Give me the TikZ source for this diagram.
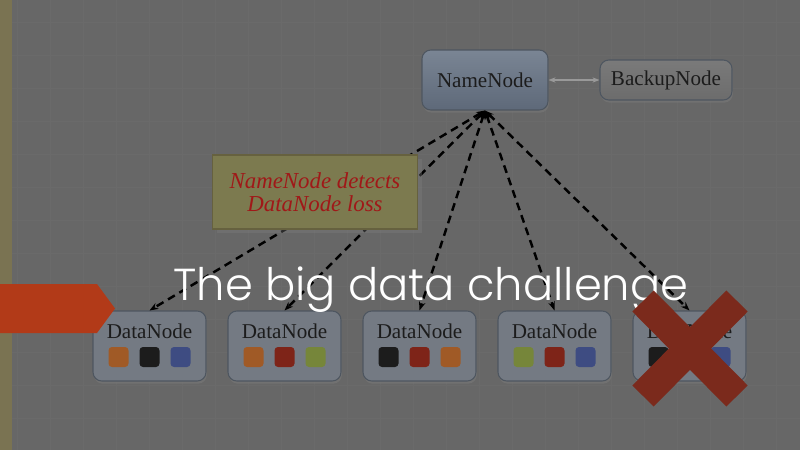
\documentclass[tikz,border=0pt]{standalone}
\usepackage{fontspec}
\setmainfont{Liberation Serif}
\newfontfamily\titlefont{Poppins Light}
\usetikzlibrary{shadows,arrows.meta}

\definecolor{slidebg}{HTML}{676767}
\definecolor{gridgray}{HTML}{6A6A6A}
\definecolor{olivebar}{HTML}{7A7352}
\definecolor{tabred}{HTML}{B23A18}
\definecolor{crossred}{HTML}{7B2A1C}
\definecolor{boxfill}{HTML}{747A83}
\definecolor{boxedge}{HTML}{4E5660}
\definecolor{nametop}{HTML}{7A8594}
\definecolor{namebottom}{HTML}{5E6979}
\definecolor{backtop}{HTML}{7A7A7A}
\definecolor{backbottom}{HTML}{6C6C6C}
\definecolor{notefill}{HTML}{7C7A4F}
\definecolor{noteedge}{HTML}{66613F}
\definecolor{notetext}{HTML}{A01818}
\definecolor{blkorange}{HTML}{A05A26}
\definecolor{blkblack}{HTML}{1C1C1C}
\definecolor{blkblue}{HTML}{3E4C82}
\definecolor{blkred}{HTML}{7E2418}
\definecolor{blkgreen}{HTML}{76863A}

\begin{document}
\begin{tikzpicture}[x=0.02cm,y=-0.02cm,
    server/.style={draw=boxedge,line width=0.6pt,rounded corners=5pt,fill=boxfill,
        drop shadow={opacity=0.4,shadow xshift=0.5pt,shadow yshift=-1.5pt},
        text=blkblack,font=\fontsize{12}{14}\selectfont},
    datanode/.style={server,minimum width=2.26cm,minimum height=1.4cm},
    block/.style={rounded corners=2pt,minimum size=0.4cm,inner sep=0pt},
    heartbeat/.style={dash pattern=on 4.5pt off 3pt,line width=1.4pt,
        {Stealth[length=5pt]}-{Stealth[length=5pt]}}
]

% Slide background
\fill[slidebg] (0,0) rectangle (800,450);
\useasboundingbox (0,0) rectangle (800,450);
\foreach \x in {17,50,...,800}
    \draw[gridgray,line width=0.4pt] (\x,0) -- (\x,450);
\foreach \y in {22,55,...,450}
    \draw[gridgray,line width=0.4pt] (0,\y) -- (800,\y);
\fill[olivebar] (0,0) rectangle (12,450);

% NameNode and BackupNode
\node[server,minimum width=2.52cm,minimum height=1.2cm,
    top color=nametop,bottom color=namebottom] (nn) at (485,80) {NameNode};
\node[server,minimum width=2.64cm,minimum height=0.8cm,
    top color=backtop,bottom color=backbottom] (bn) at (666,80) {BackupNode};
\draw[gray!80,line width=0.8pt,{Stealth[length=4pt]}-{Stealth[length=4pt]}] (nn) -- (bn);

% DataNodes
\foreach \i/\cx/\ca/\cb/\cc in {1/149.5/blkorange/blkblack/blkblue,
                                2/284.5/blkorange/blkred/blkgreen,
                                3/419.5/blkblack/blkred/blkorange,
                                4/554.5/blkgreen/blkred/blkblue,
                                5/689.5/blkblack/blkred/blkblue} {
    \node[datanode] (d\i) at (\cx,346) {};
    \node[text=blkblack,font=\fontsize{12}{14}\selectfont] (t\i) at (\cx,331) {DataNode};
    \node[block,fill=\ca] (a\i) at (\cx-31,357) {};
    \node[block,fill=\cb] (b\i) at (\cx,357) {};
    \node[block,fill=\cc] (c\i) at (\cx+31,357) {};
    \draw[heartbeat] (nn.south) -- (d\i.north);
}

% Note
\node[draw=noteedge,line width=0.8pt,fill=notefill,minimum width=4.1cm,minimum height=1.48cm,
    drop shadow={opacity=0.35},text=notetext,align=center,
    font=\itshape\fontsize{13}{13}\selectfont] (note) at (315,192)
    {NameNode detects\\DataNode loss};

% Title
\node[anchor=base,text=white,font=\titlefont\fontsize{25.5}{30}\selectfont] (title) at (431,300)
    {The big data challenge};

% Section tab
\fill[tabred] (0,284) -- (97,284) -- (115,308.5) -- (97,333) -- (0,333) -- cycle;

% Lost DataNode
\draw[crossred,line width=0.6cm] (643,301) -- (737,396);
\draw[crossred,line width=0.6cm] (737,301) -- (643,396);

\end{tikzpicture}
\end{document}
